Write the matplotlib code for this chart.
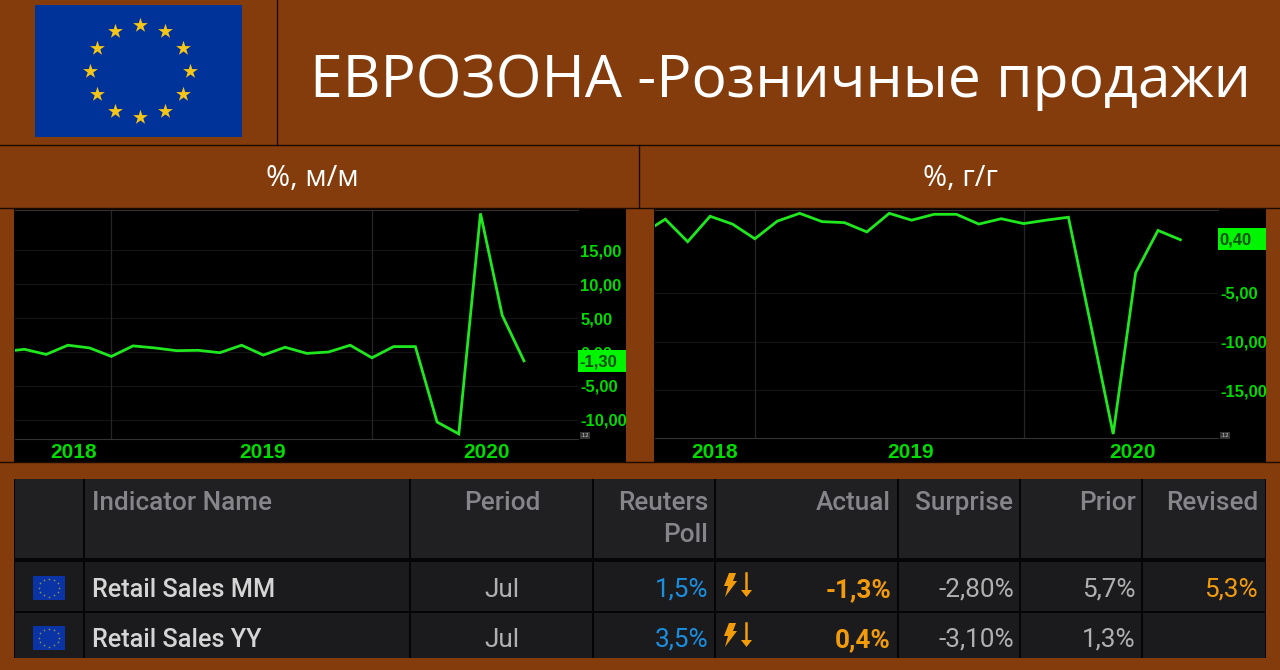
import numpy as np
import matplotlib
matplotlib.use('Agg')
import matplotlib.pyplot as plt
from matplotlib.patches import Rectangle, Polygon

# === DATA ===
months = ['2018-07', '2018-08', '2018-09', '2018-10', '2018-11', '2018-12',
          '2019-01', '2019-02', '2019-03', '2019-04', '2019-05', '2019-06',
          '2019-07', '2019-08', '2019-09', '2019-10', '2019-11', '2019-12',
          '2020-01', '2020-02', '2020-03', '2020-04', '2020-05', '2020-06', '2020-07']
mm_values = [0.05, 0.4, -0.35, 1.0, 0.6, -0.65, 0.9, 0.6, 0.2, 0.25, -0.1, 1.0,
             -0.45, 0.7, -0.2, 0.0, 1.0, -0.85, 0.8, 0.8, -10.3, -12.05, 20.4, 5.4, -1.3]
yy_values = [1.05, 2.5, 0.2, 2.8, 2.0, 0.5, 2.3, 3.1, 2.25, 2.15, 1.2, 3.1,
             2.4, 3.0, 3.0, 2.0, 2.55, 2.05, 2.4, 2.7, -8.3, -19.45, -3.0, 1.35, 0.4]
mm_ticks = [15, 10, 5, 0, -5, -10]
mm_tick_labels = ['15,00', '10,00', '5,00', '0,00', '-5,00', '-10,00']
yy_ticks = [-5, -10, -15]
yy_tick_labels = ['-5,00', '-10,00', '-15,00']
year_labels = ['2018', '2019', '2020']
col_headers = ['Indicator Name', 'Period', 'Reuters\nPoll', 'Actual', 'Surprise', 'Prior', 'Revised']
row_names = ['Retail Sales MM', 'Retail Sales YY']
row_period = ['Jul', 'Jul']
row_poll = ['1,5%', '3,5%']
row_actual = ['-1,3%', '0,4%']
row_surprise = ['-2,80%', '-3,10%']
row_prior = ['5,7%', '1,3%']
row_revised = ['5,3%', '']

# === STYLE ===
W, H = 1280, 670
BROWN = '#843C0C'
LINE_DARK = '#1a0a00'
GREEN = '#1fe81f'
TICK_GREEN = '#00dc00'
BOX_GREEN = '#00f500'
TICK_FONT = 'Liberation Sans'


def px_axes(rect):
    # rect in pixels from top left: x0, y0, x1, y1
    x0, y0, x1, y1 = rect
    return fig.add_axes([x0 / W, 1 - y1 / H, (x1 - x0) / W, (y1 - y0) / H])


fig = plt.figure(figsize=(W / 100, H / 100), dpi=100, facecolor=BROWN)

# base layer in pixel coordinates
base = fig.add_axes([0, 0, 1, 1], zorder=0)
base.set_xlim(0, W)
base.set_ylim(H, 0)
base.axis('off')

# header lines
base.plot([0, W], [145, 145], color=LINE_DARK, lw=1)
base.plot([0, W], [208, 208], color=LINE_DARK, lw=1)
base.plot([0, W], [462, 462], color=LINE_DARK, lw=1)
base.plot([277, 277], [0, 145], color=LINE_DARK, lw=1)
base.plot([639, 639], [145, 208], color=LINE_DARK, lw=1)

# big flag
base.add_patch(Rectangle((35, 5), 207, 132, color='#003399', lw=0))
angles = np.deg2rad(np.arange(0, 360, 30))
base.scatter(140 + 49.7 * np.cos(angles), 71 + 46 * np.sin(angles), marker='*', s=125,
             color='#F5C518', lw=0)

base.text(310, 81.5, 'ЕВРОЗОНА -Розничные продажи', color='white', fontsize=42.3,
          family='Open Sans', va='center', ha='left')
base.text(312, 179, '%, м/м', color='white', fontsize=21, family='Open Sans', va='center', ha='center')
base.text(960, 179, '%, г/г', color='white', fontsize=21, family='Open Sans', va='center', ha='center')

# black chart panels
base.add_patch(Rectangle((14, 209), 612, 253, color='black', lw=0))
base.add_patch(Rectangle((654, 209), 612, 253, color='black', lw=0))

# table
base.add_patch(Rectangle((14, 479), 1252, 179, color='#050505', lw=0))
col_edges = [14, 84, 410, 593, 715, 898, 1020, 1142, 1266]
row_edges = [(479, 558, '#202023'), (562, 611, '#1b1b1e'), (613, 658, '#1b1b1e')]
for top, bottom, colour in row_edges:
    for left, right in zip(col_edges[:-1], col_edges[1:]):
        base.add_patch(Rectangle((left + 1, top), right - left - 2, bottom - top, color=colour, lw=0))

HEAD = '#85858a'
CELL = '#d5d5d5'
GREY_CELL = '#b0b0b0'
ORANGE = '#f39c0b'
BLUE = '#1a8fe0'
TF = 'Roboto'
TS = 18.8
WT = 'medium'
base.text(92, 503, col_headers[0], color=HEAD, fontsize=TS, family=TF, va='center', ha='left', fontweight=WT)
base.text(502, 503, col_headers[1], color=HEAD, fontsize=TS, family=TF, va='center', ha='center', fontweight=WT)
base.text(708, 503, col_headers[2].split('\n')[0], color=HEAD, fontsize=TS, family=TF, va='center', ha='right',
          fontweight=WT)
base.text(708, 535, col_headers[2].split('\n')[1], color=HEAD, fontsize=TS, family=TF, va='center', ha='right',
          fontweight=WT)
base.text(891, 503, col_headers[3], color=HEAD, fontsize=TS, family=TF, va='center', ha='right', fontweight=WT)
base.text(1013, 503, col_headers[4], color=HEAD, fontsize=TS, family=TF, va='center', ha='right', fontweight=WT)
base.text(1136, 503, col_headers[5], color=HEAD, fontsize=TS, family=TF, va='center', ha='right', fontweight=WT)
base.text(1258, 503, col_headers[6], color=HEAD, fontsize=TS, family=TF, va='center', ha='right', fontweight=WT)

small_x = 49 + 10 * np.cos(angles)
for i, yc in enumerate([590, 640]):
    base.text(92, yc, row_names[i], color=CELL, fontsize=18.2, family=TF, va='center', ha='left', fontweight=WT)
    base.text(502, yc, row_period[i], color=GREY_CELL, fontsize=TS, family=TF, va='center', ha='center')
    base.text(708, yc, row_poll[i], color=BLUE, fontsize=TS, family=TF, va='center', ha='right')
    base.text(891, yc, row_actual[i], color=ORANGE, fontsize=TS, family=TF, va='center', ha='right',
              fontweight='bold')
    base.text(1014, yc, row_surprise[i], color=GREY_CELL, fontsize=TS, family=TF, va='center', ha='right')
    base.text(1136, yc, row_prior[i], color=GREY_CELL, fontsize=TS, family=TF, va='center', ha='right')
    if row_revised[i]:
        base.text(1258, yc, row_revised[i], color=ORANGE, fontsize=TS, family=TF, va='center', ha='right')
    # small flag
    flag_top = yc - 14.5
    base.add_patch(Rectangle((33, flag_top), 32, 24.5, color='#0a33a5', lw=0))
    base.scatter(small_x, flag_top + 12 + 9 * np.sin(angles), marker='o', s=1.5, color='#8a8f55', lw=0)
    # lightning and down arrow
    ty = yc - 17
    base.add_patch(Polygon([(729, ty), (736, ty), (733, ty + 8), (737, ty + 8), (725, ty + 24),
                            (728, ty + 13), (724, ty + 13)], color=ORANGE, lw=0))
    base.plot([746, 746], [ty, ty + 20], color=ORANGE, lw=1.8)
    base.add_patch(Polygon([(741, ty + 17), (752, ty + 17), (746.5, ty + 24)], color=ORANGE, lw=0))


def draw_chart(rect, values, xlim, ylim, ticks, tick_labels, grid_ys):
    ax = px_axes(rect)
    ax.set_zorder(1)
    ax.set_facecolor('black')
    x = np.arange(len(months))
    ax.plot(x, values, color=GREEN, lw=2, solid_joinstyle='miter')
    ax.set_xlim(*xlim)
    ax.set_ylim(*ylim)
    for g in grid_ys:
        ax.axhline(g, color='#141414', lw=0.8, zorder=0)
    # year boundaries sit on Dec 2018 and Dec 2019
    ax.axvline(months.index('2018-12'), color='#262626', lw=0.9, zorder=0)
    ax.axvline(months.index('2019-12'), color='#262626', lw=0.9, zorder=0)
    ax.yaxis.tick_right()
    ax.set_yticks(ticks)
    ax.set_yticklabels(tick_labels, color=TICK_GREEN, fontsize=12, family=TICK_FONT, fontweight='bold')
    ax.tick_params(axis='y', length=0, pad=1.5)
    ax.set_xticks([])
    for side in ['left', 'right', 'top', 'bottom']:
        ax.spines[side].set_color('#333333')
        ax.spines[side].set_linewidth(0.8)
    ax.spines['left'].set_visible(False)
    ax.spines['right'].set_visible(False)
    return ax


ax_mm = draw_chart((14.7, 210, 578, 439), mm_values, (0.55, 26.49), (-12.8, 20.9),
                   mm_ticks, mm_tick_labels, mm_ticks)
ax_yy = draw_chart((654.7, 210, 1218, 438), yy_values, (0.527, 25.68), (-19.86, 3.44),
                   yy_ticks, yy_tick_labels, yy_ticks)

# top layer: value boxes, year labels
top = fig.add_axes([0, 0, 1, 1], zorder=2)
top.set_xlim(0, W)
top.set_ylim(H, 0)
top.axis('off')
top.patch.set_alpha(0)

top.add_patch(Rectangle((578, 350), 48, 22, color=BOX_GREEN, lw=0))
top.add_patch(Rectangle((1218, 228), 48, 22, color=BOX_GREEN, lw=0))
top.text(579, 362, f'{mm_values[-1]:.2f}'.replace('.', ','), color='#0b4d0b', fontsize=12,
         family=TICK_FONT, fontweight='bold', va='center', ha='left')
top.text(1219, 240, f'{yy_values[-1]:.2f}'.replace('.', ','), color='#0b4d0b', fontsize=12,
         family=TICK_FONT, fontweight='bold', va='center', ha='left')

for xp, lab in zip([74, 263, 486], year_labels):
    top.text(xp, 452, lab, color=TICK_GREEN, fontsize=15, family=TICK_FONT, fontweight='bold',
             va='center', ha='center')
for xp, lab in zip([715, 911, 1132], year_labels):
    top.text(xp, 452, lab, color=TICK_GREEN, fontsize=15, family=TICK_FONT, fontweight='bold',
             va='center', ha='center')

# little scale boxes
for xp in [580, 1220]:
    top.add_patch(Rectangle((xp, 432), 10, 7, color='#333333', lw=0))
    top.text(xp + 5, 435.5, '.12', color='#cccccc', fontsize=4, va='center', ha='center')

fig.savefig('out.png', dpi=100, facecolor=BROWN)
